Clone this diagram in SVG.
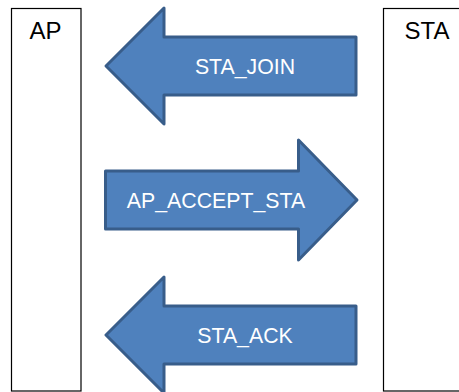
<svg xmlns="http://www.w3.org/2000/svg" width="459" height="392" viewBox="0 0 459 392">
<style>
.box{fill:#fff;stroke:#000;stroke-width:1.2}
.lbl{font-family:"Liberation Sans",Arial,sans-serif;font-size:24px;fill:#000;text-anchor:middle}
.arr{fill:#4F81BD;stroke:#385D8A;stroke-width:3;stroke-linejoin:round}
.msg{font-family:"Liberation Sans",Arial,sans-serif;font-size:21.3px;fill:#fff;text-anchor:middle}
</style>
<rect width="459" height="392" fill="#fff"/>
<g id="ap">
<rect class="box" x="11.5" y="8.5" width="69.5" height="382.5"/>
<text class="lbl" x="45.5" y="39">AP</text>
</g>
<g id="sta">
<rect class="box" x="383.5" y="8.5" width="90" height="382.5"/>
<text class="lbl" x="427" y="39">STA</text>
</g>
<g id="connectors">
<g id="sta_join">
<path class="arr" d="M106,66 L164,8 L164,37 L356,37 L356,95 L164,95 L164,124 Z"/>
<text class="msg" x="245" y="74">STA_JOIN</text>
</g>
<g id="ap_accept_sta">
<path class="arr" d="M357,200 L298.5,140 L298.5,171 L105.5,171 L105.5,229 L298.5,229 L298.5,260 Z"/>
<text class="msg" x="216" y="208">AP_ACCEPT_STA</text>
</g>
<g id="sta_ack">
<path class="arr" d="M106,335 L164,277 L164,306 L356,306 L356,364 L164,364 L164,393 Z"/>
<text class="msg" x="245" y="343">STA_ACK</text>
</g>
</g>
</svg>
